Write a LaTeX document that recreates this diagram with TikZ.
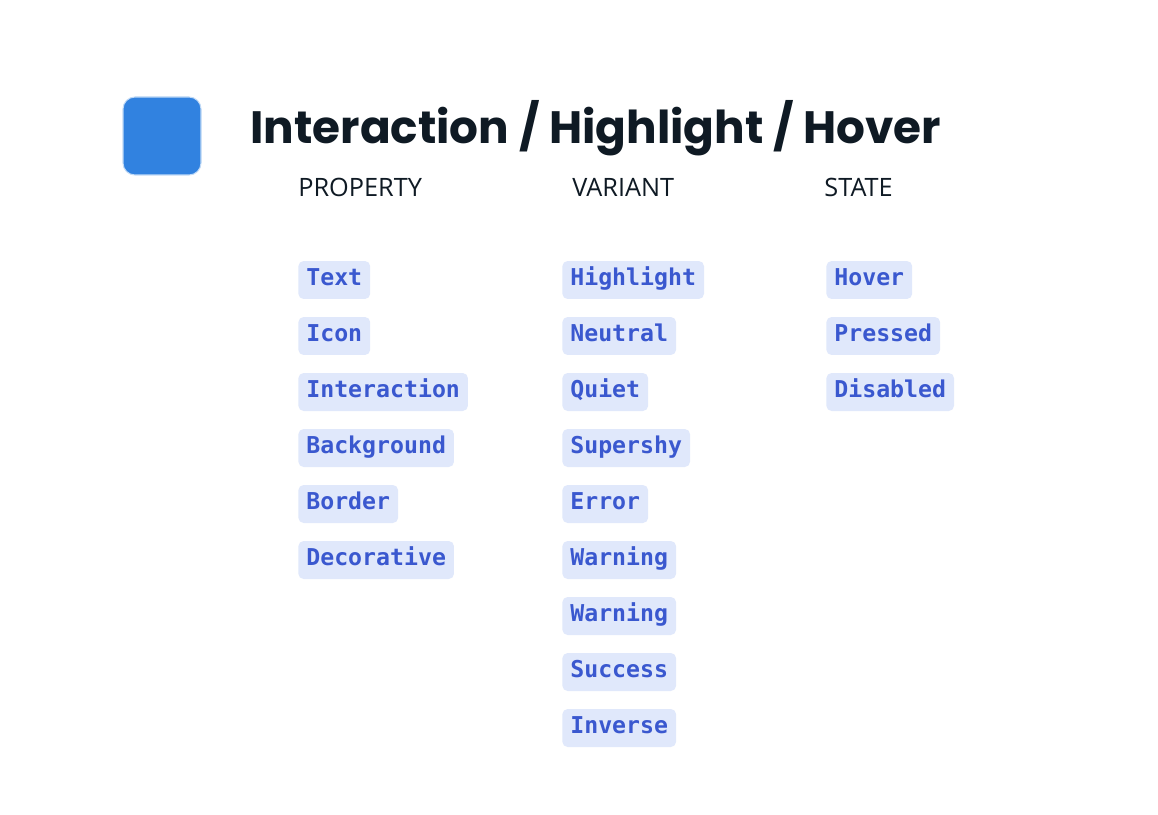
\documentclass[tikz,border=0pt]{standalone}
\usepackage{fontspec}
\setmainfont{Open Sans}
\newfontfamily\titlefont[Scale=1]{Poppins}
\newfontfamily\tagfont{DejaVu Sans Mono}
\usetikzlibrary{positioning}
\definecolor{swatch}{HTML}{3182E0}
\definecolor{tagbg}{HTML}{E0E8FB}
\definecolor{tagfg}{HTML}{3A58CF}
\definecolor{ink}{HTML}{0F1A24}
\tikzset{
    tag/.style={anchor=west,fill=tagbg,text=tagfg,rounded corners=3pt,
        font=\tagfont\bfseries\fontsize{13.2}{15}\selectfont,
        inner xsep=0.16cm,minimum height=0.76cm,text height=1.5ex,text depth=0.4ex},
    head/.style={anchor=west,text=ink,font=\fontsize{14.4}{17}\selectfont,inner sep=0pt}
}
\begin{document}
\begin{tikzpicture}[x=0.02cm,y=-0.02cm]
    \useasboundingbox (0,0) rectangle (1158,814);
    \fill[white] (0,0) rectangle (1158,814);
    \draw[swatch!30!white,fill=swatch,rounded corners=0.24cm,line width=0.6pt] (123,97) rectangle (201,175);
    \node[anchor=west,inner sep=0pt,text=ink,font=\titlefont\bfseries\fontsize{25.8}{30}\selectfont] (title) at (250,128) {Interaction / Highlight / Hover};
    \node[head] (property) at (298,187) {PROPERTY};
    \node[head] (variant) at (572,187) {VARIANT};
    \node[head] (state) at (824,187) {STATE};
    % property tags
    \foreach \t [count=\i] in {Text,Icon,Interaction,Background,Border,Decorative}
        \node[tag] (p\i) at (298,224+56*\i) {\t};
    % variant tags
    \foreach \t [count=\i] in {Highlight,Neutral,Quiet,Supershy,Error,Warning,Warning,Success,Inverse}
        \node[tag] (v\i) at (562,224+56*\i) {\t};
    % state tags
    \foreach \t [count=\i] in {Hover,Pressed,Disabled}
        \node[tag] (s\i) at (826,224+56*\i) {\t};
\end{tikzpicture}
\end{document}
